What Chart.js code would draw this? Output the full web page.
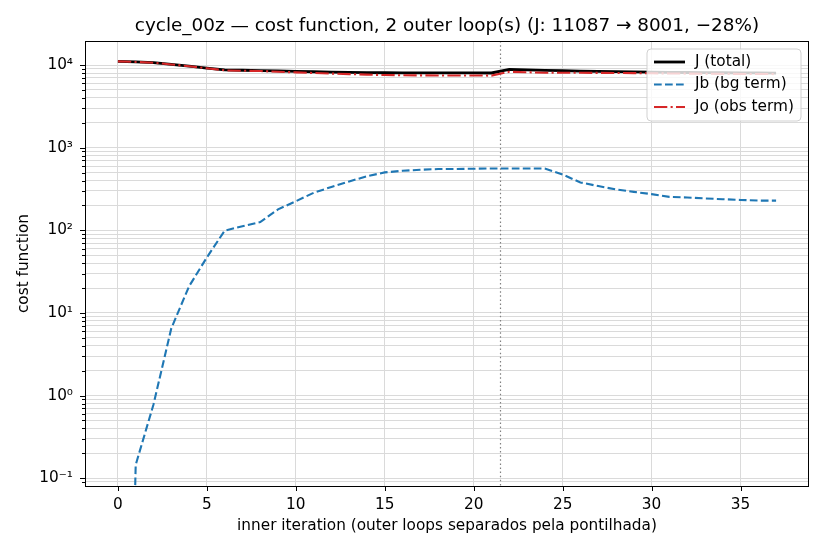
<!DOCTYPE html>
<html>
<head>
<meta charset="utf-8">
<script src="https://cdn.jsdelivr.net/npm/chart.js@4.4.1/dist/chart.umd.min.js"></script>
<style>
  html, body { margin: 0; padding: 0; background: #fff; }
  canvas { display: block; }
</style>
</head>
<body>
<canvas id="c" width="825" height="550"></canvas>
<script>
// ---- data ----
const iterations = Array.from({length: 38}, (_, i) => i);
const J  = [11087, 10900, 10680, 10180, 9700, 9200, 8720, 8650, 8580, 8480,
            8380, 8300, 8220, 8160, 8110, 8070, 8050, 8040, 8030, 8025,
            8020, 8015, 8850, 8740, 8640, 8540, 8450, 8380, 8320, 8270,
            8220, 8170, 8130, 8095, 8065, 8040, 8020, 8001];
const Jb = [0, 0.145, 0.78, 6.5, 21, 47, 99, 112, 126, 179,
            225, 284, 335, 390, 452, 502, 525, 541, 551, 553,
            556, 560, 560, 560, 560, 473, 380, 343, 312, 292,
            274, 254, 250, 243, 238, 233, 229, 229];
const Jo = [11087, 10900, 10679, 10174, 9679, 9153, 8621, 8538, 8454, 8301,
            8155, 8016, 7885, 7770, 7658, 7568, 7525, 7499, 7479, 7472,
            7464, 7455, 8290, 8180, 8080, 8067, 8070, 8037, 8008, 7978,
            7946, 7916, 7880, 7852, 7827, 7807, 7791, 7772];
const outerLoopBoundaries = [21.5];
const nOuterLoops = 2;
const xTicks = [0, 5, 10, 15, 20, 25, 30, 35];
const yMajorTicks = [0.1, 1, 10, 100, 1000, 10000];
const yTickLabels = ['10\u207B\u00B9', '10\u2070', '10\u00B9', '10\u00B2', '10\u00B3', '10\u2074'];
const seriesLabels = ['J (total)', 'Jb (bg term)', 'Jo (obs term)'];

const pct = Math.round((1 - J[J.length - 1] / J[0]) * 100);
const titleText = `cycle_00z \u2014 cost function, ${nOuterLoops} outer loop(s) (J: ${J[0]} \u2192 ${J[J.length - 1]}, \u2212${pct}%)`;

// log axis clips non-positive values (like matplotlib)
const clipPos = v => (v > 0 ? v : 1e-10);

const FONT = 'DejaVu Sans';
const FS = 15.3;
Chart.defaults.color = '#000';
Chart.defaults.font.family = FONT;

// y ticks: majors + minors (2..9 per decade)
const Y_MIN = 0.0805, Y_MAX = 19500;
function buildYTicks() {
  const t = [];
  for (let e = -2; e <= 4; e++) {
    for (let m = 1; m <= 9; m++) {
      const v = m * Math.pow(10, e);
      if (v >= Y_MIN && v <= Y_MAX) t.push({value: v, major: m === 1});
    }
  }
  return t;
}

const frameAndTicks = {
  id: 'frameAndTicks',
  beforeDatasetsDraw(chart) {
    const {ctx, chartArea: a, scales: {x}} = chart;
    ctx.save();
    ctx.strokeStyle = '#808080';
    ctx.lineWidth = 1.2;
    ctx.setLineDash([1.5, 2.6]);
    outerLoopBoundaries.forEach(b => {
      const px = Math.round(x.getPixelForValue(b)) + 0.5;
      ctx.beginPath();
      ctx.moveTo(px, a.top);
      ctx.lineTo(px, a.bottom);
      ctx.stroke();
    });
    ctx.restore();
  },
  afterDraw(chart) {
    const {ctx, chartArea: a, scales: {x, y}} = chart;
    ctx.save();
    ctx.strokeStyle = '#000';
    ctx.lineWidth = 1;
    ctx.strokeRect(Math.round(a.left) + 0.5, Math.round(a.top) + 0.5,
                   Math.round(a.right - a.left) - 1, Math.round(a.bottom - a.top));
    // x tick marks
    x.ticks.forEach(t => {
      const px = Math.round(x.getPixelForValue(t.value)) + 0.5;
      ctx.beginPath();
      ctx.moveTo(px, a.bottom);
      ctx.lineTo(px, a.bottom + 5);
      ctx.stroke();
    });
    // y tick marks
    y.ticks.forEach(t => {
      const py = Math.round(y.getPixelForValue(t.value)) + 0.5;
      const len = t.major ? 5 : 3;
      ctx.beginPath();
      ctx.moveTo(a.left, py);
      ctx.lineTo(a.left - len, py);
      ctx.stroke();
    });

    // legend (upper right, inside axes)
    const bx = 647, by = 49, bw = 154, bh = 72, r = 4;
    ctx.fillStyle = 'rgba(255,255,255,0.8)';
    ctx.strokeStyle = 'rgba(204,204,204,0.9)';
    ctx.lineWidth = 1;
    ctx.beginPath();
    ctx.moveTo(bx + r, by);
    ctx.lineTo(bx + bw - r, by);
    ctx.arcTo(bx + bw, by, bx + bw, by + r, r);
    ctx.lineTo(bx + bw, by + bh - r);
    ctx.arcTo(bx + bw, by + bh, bx + bw - r, by + bh, r);
    ctx.lineTo(bx + r, by + bh);
    ctx.arcTo(bx, by + bh, bx, by + bh - r, r);
    ctx.lineTo(bx, by + r);
    ctx.arcTo(bx, by, bx + r, by, r);
    ctx.closePath();
    ctx.fill();
    ctx.stroke();
    chart.data.datasets.forEach((ds, i) => {
      const ry = 62 + i * 22.5;
      ctx.strokeStyle = ds.borderColor;
      ctx.lineWidth = ds.borderWidth;
      ctx.setLineDash(ds.borderDash || []);
      ctx.beginPath();
      ctx.moveTo(654, ry);
      ctx.lineTo(685, ry);
      ctx.stroke();
      ctx.setLineDash([]);
      ctx.fillStyle = '#000';
      ctx.font = `${FS}px "${FONT}"`;
      ctx.textBaseline = 'middle';
      ctx.textAlign = 'left';
      ctx.fillText(ds.label, 695, ry);
    });
    ctx.restore();
  }
};

new Chart(document.getElementById('c'), {
  type: 'line',
  data: {
    labels: iterations,
    datasets: [
      {label: seriesLabels[0], data: iterations.map((it, i) => ({x: it, y: J[i]})),
       borderColor: '#000000', borderWidth: 2.8, order: 3},
      {label: seriesLabels[1], data: iterations.map((it, i) => ({x: it, y: clipPos(Jb[i])})),
       borderColor: '#1f77b4', borderWidth: 2.1, borderDash: [7.7, 3.3], order: 2},
      {label: seriesLabels[2], data: iterations.map((it, i) => ({x: it, y: Jo[i]})),
       borderColor: '#d62728', borderWidth: 2.1, borderDash: [13.3, 3.3, 2.1, 3.3], order: 1}
    ]
  },
  options: {
    responsive: false,
    devicePixelRatio: 1,
    animation: false,
    events: [],
    elements: { point: { radius: 0 }, line: { tension: 0, fill: false, borderCapStyle: 'butt' } },
    layout: { padding: { left: 0, right: 16, top: 0, bottom: 0 } },
    plugins: {
      legend: { display: false },
      tooltip: { enabled: false },
      title: {
        display: true, text: titleText, fullSize: false, color: '#000',
        font: { family: FONT, size: 18.4, weight: 'normal' },
        padding: { top: 15, bottom: 4 }
      }
    },
    scales: {
      x: {
        type: 'linear', min: -1.85, max: 38.85,
        afterBuildTicks: s => { s.ticks = xTicks.map(v => ({value: v})); },
        afterFit: s => { s.height = 64; },
        ticks: { font: { family: FONT, size: FS }, color: '#000', padding: 10, maxRotation: 0,
                 callback: v => String(v) },
        grid: { color: '#dadada', lineWidth: 1, drawTicks: false },
        border: { display: false },
        title: { display: true, text: 'inner iteration (outer loops separados pela pontilhada)',
                 font: { family: FONT, size: FS }, color: '#000', padding: { top: 0, bottom: 15 } }
      },
      y: {
        type: 'logarithmic', min: Y_MIN, max: Y_MAX,
        afterBuildTicks: s => { s.ticks = buildYTicks(); },
        afterFit: s => { s.width = 85; },
        ticks: { font: { family: FONT, size: FS }, color: '#000', padding: 12, autoSkip: false,
                 callback: v => {
                   const k = yMajorTicks.findIndex(m => Math.abs(m - v) / m < 1e-6);
                   return k >= 0 ? yTickLabels[k] : '';
                 } },
        grid: { color: '#dadada', lineWidth: 1, drawTicks: false },
        border: { display: false },
        title: { display: true, text: 'cost function',
                 font: { family: FONT, size: FS }, color: '#000', padding: { top: 15, bottom: 0 } }
      }
    }
  },
  plugins: [frameAndTicks]
});
</script>
</body>
</html>
